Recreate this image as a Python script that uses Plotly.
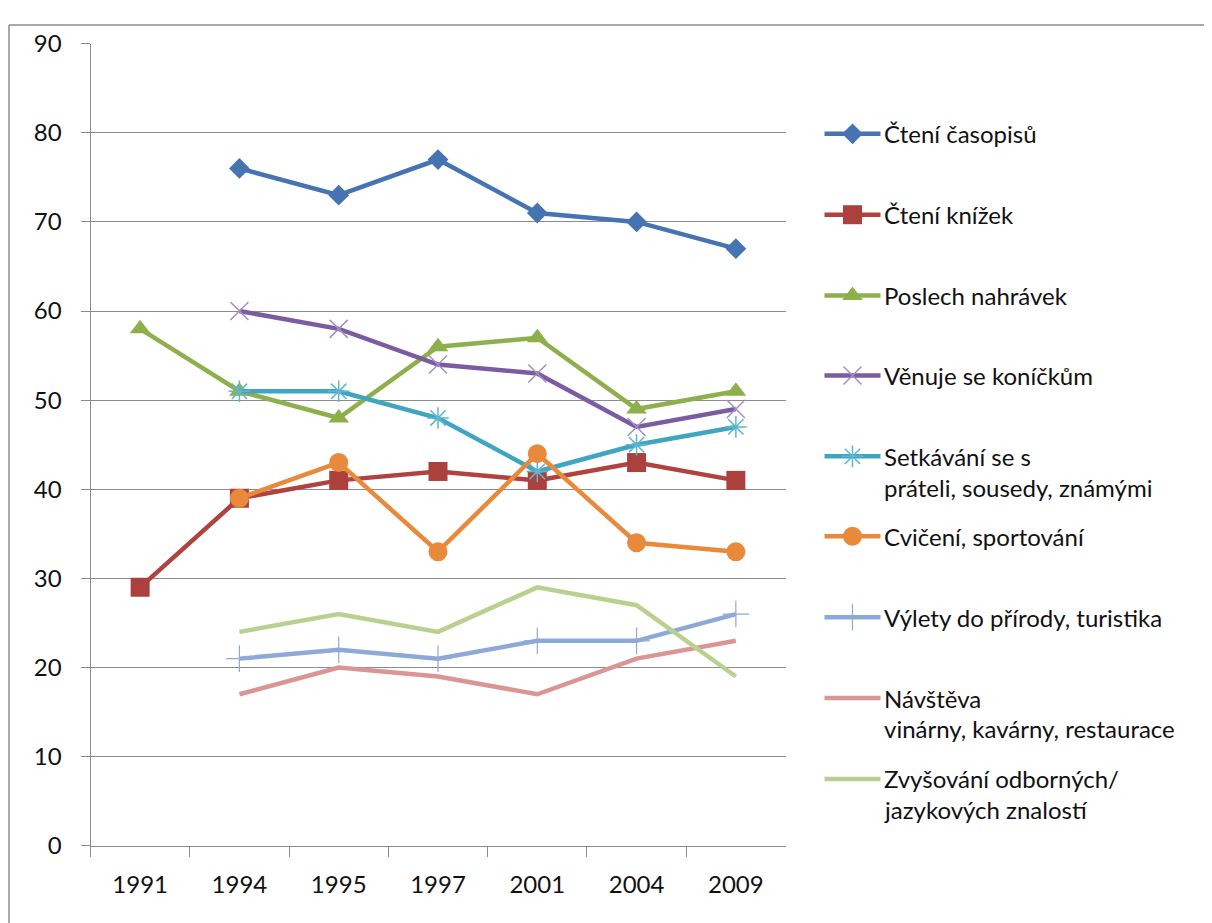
import plotly.graph_objects as go

years = ["1991", "1994", "1995", "1997", "2001", "2004", "2009"]

names = [
    "Čtení časopisů",
    "Čtení knížek",
    "Poslech nahrávek",
    "Věnuje se koníčkům",
    "Setkávání se s<br>práteli, sousedy, známými",
    "Cvičení, sportování",
    "Výlety do přírody, turistika",
    "Návštěva<br>vinárny, kavárny, restaurace",
    "Zvyšování odborných/<br>jazykových znalostí",
]

cteni_casopisu = [None, 76, 73, 77, 71, 70, 67]
cteni_knizek = [29, 39, 41, 42, 41, 43, 41]
poslech_nahravek = [58, 51, 48, 56, 57, 49, 51]
venuje_se_konickum = [None, 60, 58, 54, 53, 47, 49]
setkavani = [None, 51, 51, 48, 42, 45, 47]
cviceni = [None, 39, 43, 33, 44, 34, 33]
vylety = [None, 21, 22, 21, 23, 23, 26]
navsteva = [None, 17, 20, 19, 17, 21, 23]
zvysovani = [None, 24, 26, 24, 29, 27, 19]

series = [cteni_casopisu, cteni_knizek, poslech_nahravek, venuje_se_konickum,
          setkavani, cviceni, vylety, navsteva, zvysovani]

# styles: line color, marker symbol, marker size, marker color, marker line width
styles = [
    ("#4674B2", "diamond", 16, "#4674B2", 0),
    ("#B0433F", "square", 19, "#AC403D", 0),
    ("#8DB04C", "triangle-up", 18, "#8DB04C", 0),
    ("#7B5CA0", "x-thin-open", 18, "#A28FC8", 1.5),
    ("#3FA5C0", "asterisk-open", 18, "#5CB6CF", 1.5),
    ("#E8893B", "circle", 19, "#E8893B", 0),
    ("#8EA9D8", "cross-thin-open", 19, "#8EA9D8", 1.2),
    ("#D99694", None, 0, "#D99694", 0),
    ("#B9D18F", None, 0, "#B9D18F", 0),
]

W, H = 1212, 923
FONT = "Lato"
FS = 24
TXT = "#111111"
GRID = "#8c8c8c"
LW = 4.5

# page placement of the figure in the photographed window (calibrated)
OX, OY, SY = 7.5, 22.0, 0.970


def fx(x):
    return (x - OX) / W


def fy(y):
    return 1 - ((y - OY) / SY) / H


fig = go.Figure()

for vals, name, st in zip(series, names, styles):
    lc, sym, ms, mc, mlw = st
    kw = dict(x=years, y=vals, name=name.replace("<br>", " "), showlegend=False,
              line=dict(color=lc, width=LW), connectgaps=False, xaxis="x", yaxis="y")
    if sym:
        kw["mode"] = "lines+markers"
        mk = dict(symbol=sym, size=ms, color=mc)
        if mlw:
            mk["line"] = dict(color=mc, width=mlw)
        kw["marker"] = mk
    else:
        kw["mode"] = "lines"
    fig.add_trace(go.Scatter(**kw))

# manual legend on a hidden overlay axis whose units are window pixels
leg_y = [132, 213, 294, 374, 455, 535, 616, 697, 778]
line_gap = 31
annotations = []
for ly, name, st in zip(leg_y, names, styles):
    lc, sym, ms, mc, mlw = st
    fig.add_trace(go.Scatter(x=[824, 880], y=[ly, ly], mode="lines",
                             line=dict(color=lc, width=LW), showlegend=False,
                             hoverinfo="skip", xaxis="x2", yaxis="y2"))
    if sym:
        mk = dict(symbol=sym, size=ms, color=mc)
        if mlw:
            mk["line"] = dict(color=mc, width=mlw)
        fig.add_trace(go.Scatter(x=[852], y=[ly], mode="markers", marker=mk,
                                 showlegend=False, hoverinfo="skip",
                                 xaxis="x2", yaxis="y2"))
    for i, part in enumerate(name.split("<br>")):
        annotations.append(dict(x=881, y=ly + i * line_gap, xref="x2", yref="y2",
                                text=part, showarrow=False, xanchor="left",
                                yanchor="middle", font=dict(family=FONT, size=FS, color=TXT)))

fig.update_layout(
    width=W, height=H,
    margin=dict(l=0, r=0, t=0, b=0),
    paper_bgcolor="white",
    plot_bgcolor="rgba(0,0,0,0)",
    font=dict(family=FONT, size=FS, color=TXT),
    xaxis=dict(
        domain=[fx(90), fx(785)], type="category", range=[-0.5, 6.5],
        showgrid=False, showline=True, linecolor=GRID, linewidth=1,
        ticks="outside", tickson="boundaries", ticklen=10, tickcolor=GRID,
        tickfont=dict(family=FONT, size=FS, color=TXT), ticklabelstandoff=17,
        anchor="y", zeroline=False, fixedrange=True,
    ),
    yaxis=dict(
        domain=[fy(845), fy(41.7)], range=[0, 90], dtick=10,
        showgrid=True, gridcolor=GRID, gridwidth=1,
        showline=True, linecolor=GRID, linewidth=1,
        ticks="outside", ticklen=9, tickcolor=GRID,
        tickfont=dict(family=FONT, size=FS, color=TXT), ticklabelstandoff=14,
        anchor="x", zeroline=False, fixedrange=True,
    ),
    xaxis2=dict(domain=[0, 1], range=[OX, OX + W], visible=False, anchor="y2", fixedrange=True),
    yaxis2=dict(domain=[0, 1], range=[OY + SY * H, OY], visible=False, anchor="x2", fixedrange=True),
    annotations=annotations,
    shapes=[
        dict(type="line", xref="paper", yref="paper",
             x0=fx(8.5), x1=1.5, y0=1 - 1 / H, y1=1 - 1 / H,
             line=dict(color="#8c8c8c", width=1.5), layer="below"),
        dict(type="line", xref="paper", yref="paper",
             x0=fx(8.5), x1=fx(8.5), y0=-0.5, y1=1 - 1 / H,
             line=dict(color="#8c8c8c", width=1.5), layer="below"),
    ],
)

fig.write_html("out.html")
